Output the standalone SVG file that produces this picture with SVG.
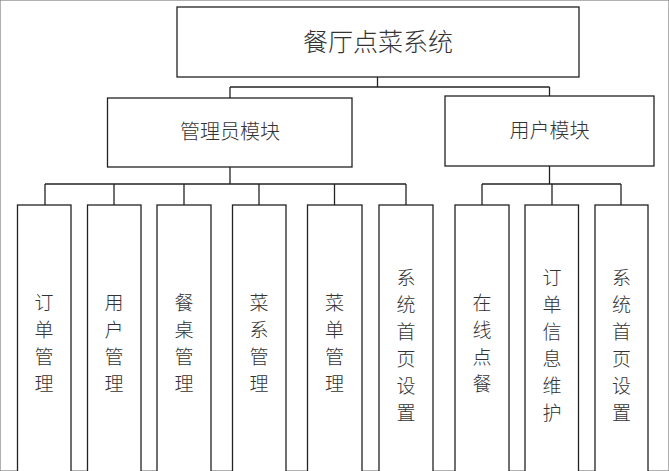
<svg xmlns="http://www.w3.org/2000/svg" width="669" height="471" viewBox="0 0 669 471">
<style>
rect{fill:#fff;stroke:#222;stroke-width:1.3}
.c line{stroke:#222;stroke-width:1.3}
text{font-family:"Noto Sans CJK SC",sans-serif;fill:#333;text-anchor:middle;font-weight:300}
.t{font-size:25px}.m{font-size:20px}.v{font-size:19px}
</style>
<rect x="0" y="0" width="669" height="471" style="fill:#fff;stroke:#888"/>
<g class="c">
<line x1="377.5" y1="77" x2="377.5" y2="87"/>
<line x1="230" y1="87" x2="549.5" y2="87"/>
<line x1="230" y1="87" x2="230" y2="98"/>
<line x1="549.5" y1="87" x2="549.5" y2="96"/>
<line x1="230" y1="167" x2="230" y2="184"/>
<line x1="45" y1="184" x2="406" y2="184"/>
<line x1="45" y1="184" x2="45" y2="205"/>
<line x1="114" y1="184" x2="114" y2="205"/>
<line x1="184" y1="184" x2="184" y2="205"/>
<line x1="259" y1="184" x2="259" y2="205"/>
<line x1="334.5" y1="184" x2="334.5" y2="205"/>
<line x1="406" y1="184" x2="406" y2="205"/>
<line x1="549.5" y1="166" x2="549.5" y2="184"/>
<line x1="482" y1="184" x2="621" y2="184"/>
<line x1="482" y1="184" x2="482" y2="205"/>
<line x1="552" y1="184" x2="552" y2="205"/>
<line x1="621" y1="184" x2="621" y2="205"/>
</g>
<g id="root"><rect x="177" y="7" width="402" height="70"/><text class="t" x="378" y="51">餐厅点菜系统</text></g>
<g id="admin"><rect x="107.5" y="98" width="244.5" height="69"/><text class="m" x="230" y="139">管理员模块</text></g>
<g id="user"><rect x="445" y="96" width="209" height="70"/><text class="m" x="549.5" y="138">用户模块</text></g>
<g id="n1"><rect x="17.5" y="205" width="53.5" height="275"/><text class="v"><tspan x="44" y="310">订</tspan><tspan x="44" y="337">单</tspan><tspan x="44" y="364">管</tspan><tspan x="44" y="391">理</tspan></text></g>
<g id="n2"><rect x="87.5" y="205" width="53.5" height="275"/><text class="v"><tspan x="114" y="310">用</tspan><tspan x="114" y="337">户</tspan><tspan x="114" y="364">管</tspan><tspan x="114" y="391">理</tspan></text></g>
<g id="n3"><rect x="157" y="205" width="54" height="275"/><text class="v"><tspan x="184" y="310">餐</tspan><tspan x="184" y="337">桌</tspan><tspan x="184" y="364">管</tspan><tspan x="184" y="391">理</tspan></text></g>
<g id="n4"><rect x="232.5" y="205" width="53.5" height="275"/><text class="v"><tspan x="259" y="310">菜</tspan><tspan x="259" y="337">系</tspan><tspan x="259" y="364">管</tspan><tspan x="259" y="391">理</tspan></text></g>
<g id="n5"><rect x="307.5" y="205" width="54.5" height="275"/><text class="v"><tspan x="334.5" y="310">菜</tspan><tspan x="334.5" y="337">单</tspan><tspan x="334.5" y="364">管</tspan><tspan x="334.5" y="391">理</tspan></text></g>
<g id="n6"><rect x="379" y="205" width="54" height="275"/><text class="v"><tspan x="406" y="285">系</tspan><tspan x="406" y="312">统</tspan><tspan x="406" y="339">首</tspan><tspan x="406" y="366">页</tspan><tspan x="406" y="393">设</tspan><tspan x="406" y="420">置</tspan></text></g>
<g id="n7"><rect x="455" y="205" width="54" height="275"/><text class="v"><tspan x="482" y="310">在</tspan><tspan x="482" y="337">线</tspan><tspan x="482" y="364">点</tspan><tspan x="482" y="391">餐</tspan></text></g>
<g id="n8"><rect x="525" y="205" width="53.5" height="275"/><text class="v"><tspan x="552" y="285">订</tspan><tspan x="552" y="312">单</tspan><tspan x="552" y="339">信</tspan><tspan x="552" y="366">息</tspan><tspan x="552" y="393">维</tspan><tspan x="552" y="420">护</tspan></text></g>
<g id="n9"><rect x="595" y="205" width="53" height="275"/><text class="v"><tspan x="621.5" y="285">系</tspan><tspan x="621.5" y="312">统</tspan><tspan x="621.5" y="339">首</tspan><tspan x="621.5" y="366">页</tspan><tspan x="621.5" y="393">设</tspan><tspan x="621.5" y="420">置</tspan></text></g>
</svg>
